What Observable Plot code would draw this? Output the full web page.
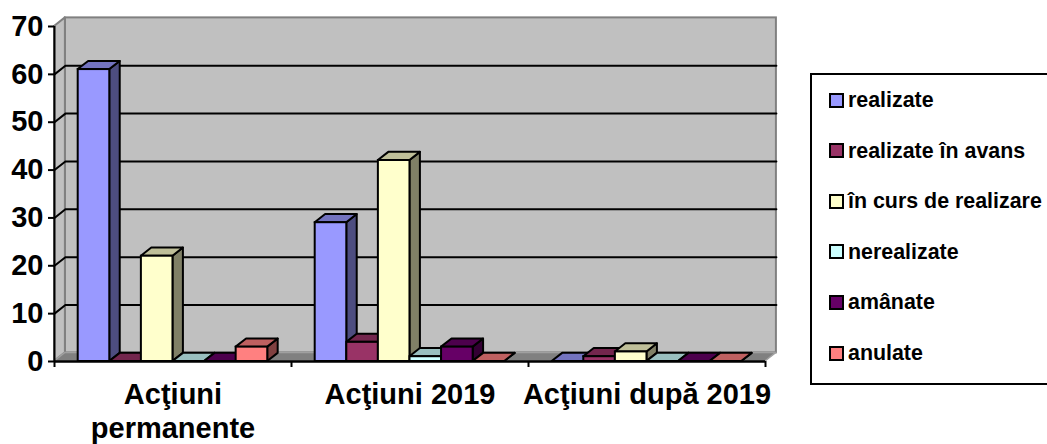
<!DOCTYPE html>
<html>
<head>
<meta charset="utf-8">
<script src="https://cdn.jsdelivr.net/npm/d3@7"></script>
<script src="https://cdn.jsdelivr.net/npm/@observablehq/plot@0.6"></script>
<style>
html,body{margin:0;padding:0;background:#fff;overflow:hidden}
#wrap{position:relative;width:1047px;height:444px;font-family:"Liberation Sans",Arial,sans-serif;font-weight:bold;color:#000}
#legend{position:absolute;left:810px;top:73px;width:235px;height:308px;border:2px solid #000;box-sizing:content-box}
.item{position:absolute;left:17px;display:flex;align-items:center;font-size:21.4px;white-space:nowrap;line-height:24px}
.sw{width:11px;height:11px;border:2px solid #000;margin-right:4px;display:inline-block;flex:none}
</style>
</head>
<body>
<div id="wrap"></div>
<script>
const categories = ["Acţiuni\npermanente", "Acţiuni 2019", "Acţiuni după 2019"];
const seriesNames = ["realizate", "realizate în avans", "în curs de realizare", "nerealizate", "amânate", "anulate"];
const seriesColors = ["#9999FF", "#993366", "#FFFFCC", "#CCFFFF", "#660066", "#FF8080"];
const realizate = [61, 29, 0];
const realizateInAvans = [0, 4, 1];
const inCurs = [22, 42, 2];
const nerealizate = [0, 1, 0];
const amanate = [0, 3, 0];
const anulate = [3, 0, 0];
const seriesValues = [realizate, realizateInAvans, inCurs, nerealizate, amanate, anulate];
const yTicks = [0, 10, 20, 30, 40, 50, 60, 70];

// scale-unit geometry of the pseudo-3D box
const gap = 0.1, barW = 0.1333;     // category units
const wallDX = 0.046, wallDY = 1.8; // depth of walls
const barDX = 0.044, barDY = 1.7;   // depth of bars
const shade = (c, k) => { const r = d3.rgb(c); return d3.rgb(r.r * k, r.g * k, r.b * k).formatHex(); };

const bars = [];
categories.forEach((cat, ci) => seriesNames.forEach((s, si) => {
  const xl = ci + gap + si * barW;
  bars.push({id: bars.length, xl, xr: xl + barW, v: seriesValues[si][ci], color: seriesColors[si]});
}));
const sides = bars.flatMap(b => [
  {id: b.id, x: b.xr, y1: 0, y2: b.v, c: shade(b.color, .5)},
  {id: b.id, x: b.xr + barDX, y1: barDY, y2: b.v + barDY, c: shade(b.color, .5)}
]);
const tops = bars.flatMap(b => [
  {id: b.id, x: b.xl, y1: b.v, y2: b.v, c: shade(b.color, .75)},
  {id: b.id, x: b.xl + barDX, y1: b.v, y2: b.v + barDY, c: shade(b.color, .75)},
  {id: b.id, x: b.xr, y1: b.v, y2: b.v + barDY, c: shade(b.color, .75)},
  {id: b.id, x: b.xr + barDX, y1: b.v + barDY, y2: b.v + barDY, c: shade(b.color, .75)}
]);
const xMax = categories.length, yMax = 70;
const leftWall = [
  {x: 0, y1: 0, y2: yMax},
  {x: wallDX, y1: wallDY, y2: yMax + wallDY}
];
const floor = [
  {x: 0, y1: 0, y2: 0},
  {x: wallDX, y1: 0, y2: wallDY},
  {x: xMax, y1: 0, y2: wallDY},
  {x: xMax + wallDX, y1: wallDY, y2: wallDY}
];
const grid = yTicks.slice(1, -1).flatMap(v => [
  {v, x: 0, y: v}, {v, x: wallDX, y: v + wallDY}, {v, x: xMax + wallDX, y: v + wallDY}
]);
const labelData = categories.map((c, i) => ({x: i + 0.5, y: 0, c}));

const chart = Plot.plot({
  width: 1047, height: 444,
  marginLeft: 54, marginRight: 282, marginTop: 26, marginBottom: 83,
  style: {fontFamily: '"Liberation Sans",Arial,sans-serif', background: "transparent", overflow: "visible"},
  x: {type: "linear", domain: [0, xMax], axis: null},
  y: {type: "linear", domain: [0, yMax], axis: null},
  color: {type: "identity"},
  marks: [
    Plot.rect([{}], {x1: wallDX, x2: xMax + wallDX, y1: wallDY, y2: yMax + wallDY, fill: "#C0C0C0", stroke: "#808080", strokeWidth: 2}),
    Plot.area(leftWall, {x1: "x", y1: "y1", y2: "y2", fill: "#C0C0C0", stroke: "#808080", strokeWidth: 2}),
    Plot.area(floor, {x1: "x", y1: "y1", y2: "y2", fill: "#808080", stroke: "#A0A0A0", strokeWidth: 1.5}),
    Plot.line(grid, {x: "x", y: "y", z: "v", stroke: "#000", strokeWidth: 2}),
    Plot.area(sides, {x1: "x", y1: "y1", y2: "y2", z: "id", fill: "c", stroke: "#000", strokeWidth: 2}),
    Plot.area(tops, {x1: "x", y1: "y1", y2: "y2", z: "id", fill: "c", stroke: "#000", strokeWidth: 2}),
    Plot.rect(bars, {x1: "xl", x2: "xr", y1: 0, y2: "v", fill: "color", stroke: "#000", strokeWidth: 2}),
    Plot.ruleX([0], {y1: 0, y2: yMax, stroke: "#000", strokeWidth: 2}),
    Plot.ruleY([0], {x1: 0, x2: xMax, stroke: "#000", strokeWidth: 2.5}),
    Plot.axisY({ticks: yTicks, tickSize: 6, tickPadding: 5, fontSize: 29, fontWeight: "bold", stroke: "#000", strokeWidth: 2, strokeOpacity: 1, label: null, fill: "#000"}),
    Plot.axisX({ticks: d3.range(xMax + 1), tickSize: 6, tickFormat: () => "", stroke: "#000", strokeWidth: 2, strokeOpacity: 1, label: null}),
    Plot.text(labelData, {x: "x", y: "y", text: "c", dy: 18, lineAnchor: "top", lineHeight: 1.17, fontSize: 29, fontWeight: "bold", fill: "#000"})
  ]
});
const wrap = document.getElementById("wrap");
wrap.appendChild(chart);

const legend = document.createElement("div");
legend.id = "legend";
seriesNames.forEach((s, i) => {
  const it = document.createElement("div");
  it.className = "item";
  it.style.top = (13 + i * 50.6) + "px";
  const sw = document.createElement("span");
  sw.className = "sw";
  sw.style.background = seriesColors[i];
  it.appendChild(sw);
  it.appendChild(document.createTextNode(s));
  legend.appendChild(it);
});
wrap.appendChild(legend);
</script>
</body>
</html>
